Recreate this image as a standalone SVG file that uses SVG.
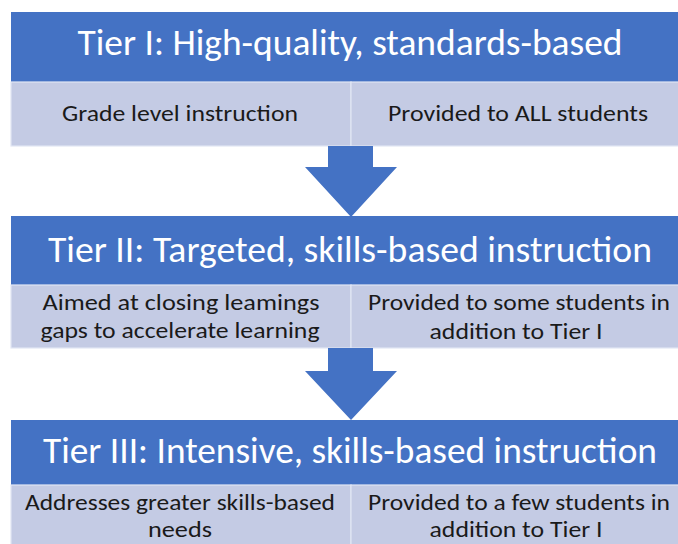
<svg xmlns="http://www.w3.org/2000/svg" width="678" height="544" viewBox="0 0 678 544">
  <style>
    .hdr { fill: #4472C4; }
    .cell { fill: #C4CBE4; stroke: #E2E6F3; stroke-width: 1.2; }
    .title { font-family: Carlito, "Liberation Sans", "DejaVu Sans", sans-serif; font-size: 36px; fill: #FFFFFF; text-anchor: middle; }
    .body { font-family: Carlito, "Liberation Sans", "DejaVu Sans", sans-serif; font-size: 22px; fill: #1A1A1A; text-anchor: middle; }
    .arrow { fill: #4472C4; }
  </style>
  <rect x="0" y="0" width="678" height="544" fill="#FFFFFF"/>

  <g id="tier1">
    <rect class="hdr" x="11" y="12" width="680" height="70"/>
    <text class="title" x="350" y="55" textLength="545" lengthAdjust="spacingAndGlyphs">Tier I: High-quality, standards-based</text>
    <g id="tier1-left">
      <rect class="cell" x="11" y="82" width="340" height="64"/>
      <text class="body" x="180" y="121" textLength="236" lengthAdjust="spacingAndGlyphs">Grade level instruction</text>
    </g>
    <g id="tier1-right">
      <rect class="cell" x="351" y="82" width="340" height="64"/>
      <text class="body" x="518" y="121" textLength="260" lengthAdjust="spacingAndGlyphs">Provided to ALL students</text>
    </g>
  </g>

  <g id="tier2">
    <rect class="hdr" x="11" y="216" width="680" height="69"/>
    <text class="title" x="350" y="262" textLength="604" lengthAdjust="spacingAndGlyphs">Tier II: Targeted, skills-based instruction</text>
    <g id="tier2-left">
      <rect class="cell" x="11" y="285" width="340" height="63"/>
      <text class="body" x="181" y="310" textLength="277" lengthAdjust="spacingAndGlyphs">Aimed at closing leamings</text>
      <text class="body" x="180" y="338" textLength="279" lengthAdjust="spacingAndGlyphs">gaps to accelerate learning</text>
    </g>
    <g id="tier2-right">
      <rect class="cell" x="351" y="285" width="340" height="63"/>
      <text class="body" x="519" y="310" textLength="302" lengthAdjust="spacingAndGlyphs">Provided to some students in</text>
      <text class="body" x="516" y="339" textLength="173" lengthAdjust="spacingAndGlyphs">addition to Tier I</text>
    </g>
  </g>

  <g id="tier3">
    <rect class="hdr" x="11" y="420" width="680" height="65"/>
    <text class="title" x="350" y="463" textLength="614" lengthAdjust="spacingAndGlyphs">Tier III: Intensive, skills-based instruction</text>
    <g id="tier3-left">
      <rect class="cell" x="11" y="485" width="340" height="70"/>
      <text class="body" x="180" y="510" textLength="310" lengthAdjust="spacingAndGlyphs">Addresses greater skills-based</text>
      <text class="body" x="180" y="537" textLength="64" lengthAdjust="spacingAndGlyphs">needs</text>
    </g>
    <g id="tier3-right">
      <rect class="cell" x="351" y="485" width="340" height="70"/>
      <text class="body" x="519" y="510" textLength="302" lengthAdjust="spacingAndGlyphs">Provided to a few students in</text>
      <text class="body" x="516" y="537" textLength="173" lengthAdjust="spacingAndGlyphs">addition to Tier I</text>
    </g>
  </g>

  <g id="connectors">
    <path class="arrow" d="M328,146 L373,146 L373,167 L397,167 L351,217 L305,167 L328,167 Z"/>
    <path class="arrow" d="M328,348 L373,348 L373,371 L397,371 L351,420 L305,371 L328,371 Z"/>
  </g>
</svg>
